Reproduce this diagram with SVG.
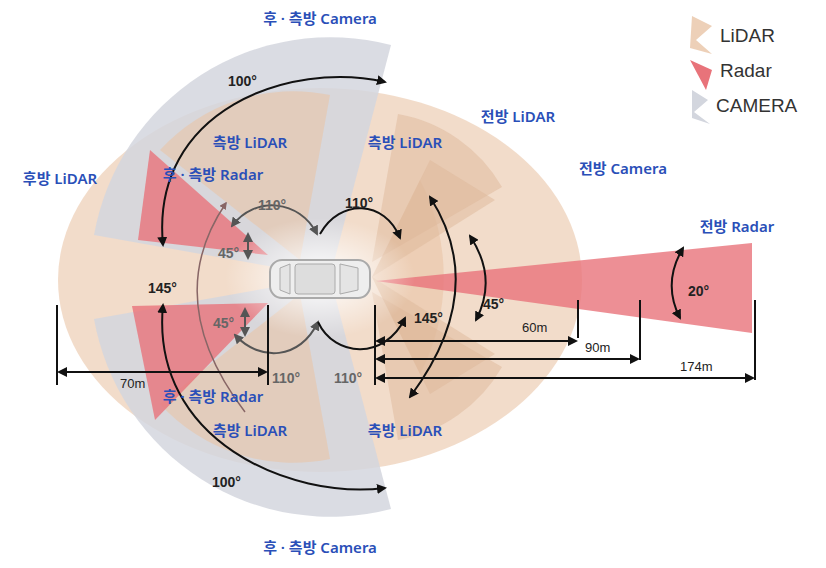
<svg xmlns="http://www.w3.org/2000/svg" width="826" height="568" viewBox="0 0 826 568">
<defs>
<style>
.lid{fill:#e9c4a6;opacity:.6}
.lid2{fill:#deb89a;opacity:.5}
.rad{fill:#e8737a;opacity:.8}
.cam{fill:#d3d6de;opacity:.85}
.lb{font-family:"Noto Sans","Noto Sans CJK KR",sans-serif;font-size:15px;font-weight:600;fill:#2a4fb8;text-anchor:middle}
.dg{font-family:"Liberation Sans",sans-serif;font-size:14px;font-weight:bold;fill:#222}
.dgg{font-family:"Liberation Sans",sans-serif;font-size:14px;font-weight:bold;fill:#666}
.dm{font-family:"Liberation Sans",sans-serif;font-size:13px;fill:#222}
.lg{font-family:"Liberation Sans",sans-serif;font-size:19px;fill:#333}
.a{fill:none;stroke:#111;stroke-width:2}
.ag{fill:none;stroke:#555;stroke-width:2}
.ab{fill:none;stroke:#866;stroke-width:1.5}
.v{stroke:#111;stroke-width:2}
</style>
<marker id="m" viewBox="0 0 10 10" refX="8" refY="5" markerWidth="5" markerHeight="5" orient="auto-start-reverse"><path d="M0,0L10,5L0,10z" fill="#111"/></marker>
<marker id="mg" viewBox="0 0 10 10" refX="8" refY="5" markerWidth="5" markerHeight="5" orient="auto-start-reverse"><path d="M0,0L10,5L0,10z" fill="#555"/></marker>
<marker id="mb" viewBox="0 0 10 10" refX="8" refY="5" markerWidth="5" markerHeight="5" orient="auto-start-reverse"><path d="M0,0L10,5L0,10z" fill="#866"/></marker>
<radialGradient id="glow"><stop offset="0" stop-color="#fff" stop-opacity="1"/><stop offset="1" stop-color="#fff" stop-opacity="0"/></radialGradient>
</defs>
<rect width="826" height="568" fill="#fff"/>
<g id="sensors">
<ellipse class="lid" cx="320" cy="280" rx="262" ry="192"/>
<path class="cam" d="M330,277 L94,235 A240,240 0 0 1 391,45 Z"/>
<path class="cam" d="M330,277 L94,319 A240,240 0 0 0 391,509 Z"/>
<path class="lid" d="M372,277 L420,180 A210,210 0 0 1 420,374 Z"/>
<path class="lid2" d="M372,262 L398,114 A150,150 0 0 1 502,187 Z"/>
<path class="lid2" d="M372,292 L398,440 A150,150 0 0 0 502,367 Z"/>
<path class="lid2" d="M372,277 L430,160 L495,200 Z"/>
<path class="lid2" d="M372,277 L430,394 L495,354 Z"/>
<path class="lid" d="M300,260 L160,150 A180,180 0 0 1 330,95 Z"/>
<path class="lid" d="M300,294 L160,404 A180,180 0 0 0 330,459 Z"/>
<path class="rad" d="M268,255 L150,150 L138,240 Z"/>
<path class="rad" d="M268,303 L132,306 L155,420 Z"/>
<path class="rad" d="M376,281 L752,243 L752,333 Z"/>
<ellipse cx="320" cy="278" rx="95" ry="60" fill="url(#glow)"/>
</g>
<g id="car">
<rect x="270" y="260" width="100" height="38" rx="12" fill="#eee" stroke="#aaa" stroke-width="2"/>
<rect x="295" y="264" width="40" height="30" rx="3" fill="#ddd" stroke="#aaa"/>
<path d="M340,264 L358,268 L358,290 L340,294 Z" fill="#e4e4e4" stroke="#aaa"/>
<path d="M290,264 L280,268 L280,290 L290,294 Z" fill="#e4e4e4" stroke="#aaa"/>
</g>
<g id="connectors">
<path class="a" d="M163,245 C150,110 290,60 385,82" marker-start="url(#m)" marker-end="url(#m)"/>
<path class="a" d="M163,305 C150,440 290,500 385,488" marker-start="url(#m)" marker-end="url(#m)"/>
<path class="ag" d="M232,226 C255,195 300,200 317,234" marker-start="url(#mg)" marker-end="url(#mg)"/>
<path class="a" d="M320,234 C340,198 385,200 400,238" marker-end="url(#m)"/>
<path class="ag" d="M235,335 C260,362 300,360 318,322" marker-start="url(#mg)" marker-end="url(#mg)"/>
<path class="a" d="M318,322 C335,358 385,360 405,318" marker-end="url(#m)"/>
<path class="ab" d="M226,203 Q160,300 245,412" marker-start="url(#mb)"/>
<path class="a" d="M430,197 Q490,290 410,397" marker-start="url(#m)" marker-end="url(#m)"/>
<path class="a" d="M470,236 Q498,278 476,320" marker-start="url(#m)" marker-end="url(#m)"/>
<path class="a" d="M683,248 Q662,283 680,318" marker-start="url(#m)" marker-end="url(#m)"/>
<path class="ag" d="M248,234 V258" marker-start="url(#mg)" marker-end="url(#mg)"/>
<path class="ag" d="M245,309 V335" marker-start="url(#mg)" marker-end="url(#mg)"/>
<path class="v" d="M57,305V385 M268,305V385 M375,305V385 M578,300V338 M640,300V360 M755,300V380"/>
<path class="a" d="M59,372H266" marker-start="url(#m)" marker-end="url(#m)"/>
<path class="a" d="M377,341H576" marker-start="url(#m)" marker-end="url(#m)"/>
<path class="a" d="M377,359H638" marker-start="url(#m)" marker-end="url(#m)"/>
<path class="a" d="M377,378H753" marker-start="url(#m)" marker-end="url(#m)"/>
</g>
<g id="labels">
<text class="lb" x="320" y="24">후 · 측방 Camera</text>
<text class="lb" x="320" y="553">후 · 측방 Camera</text>
<text class="lb" x="250" y="148">측방 LiDAR</text>
<text class="lb" x="405" y="148">측방 LiDAR</text>
<text class="lb" x="250" y="436">측방 LiDAR</text>
<text class="lb" x="405" y="436">측방 LiDAR</text>
<text class="lb" x="518" y="122">전방 LiDAR</text>
<text class="lb" x="60" y="184">후방 LiDAR</text>
<text class="lb" x="213" y="180">후 · 측방 Radar</text>
<text class="lb" x="213" y="402">후 · 측방 Radar</text>
<text class="lb" x="623" y="174">전방 Camera</text>
<text class="lb" x="737" y="232">전방 Radar</text>
<text class="dg" x="228" y="86">100°</text>
<text class="dg" x="212" y="487">100°</text>
<text class="dg" x="148" y="293">145°</text>
<text class="dg" x="414" y="323">145°</text>
<text class="dg" x="483" y="309">45°</text>
<text class="dg" x="688" y="296">20°</text>
<text class="dgg" x="258" y="210">110°</text>
<text class="dg" x="345" y="208">110°</text>
<text class="dgg" x="272" y="383">110°</text>
<text class="dgg" x="334" y="383">110°</text>
<text class="dgg" x="218" y="258">45°</text>
<text class="dgg" x="213" y="328">45°</text>
<text class="dm" x="522" y="332">60m</text>
<text class="dm" x="585" y="352">90m</text>
<text class="dm" x="680" y="371">174m</text>
<text class="dm" x="120" y="388" fill="#777">70m</text>
</g>
<g id="legend">
<path d="M692,16 L712,26 L696,40 L712,54 L690,48 Z" fill="#e9c4a6" opacity=".8"/>
<path d="M690,60 L712,70 L706,90 Z" fill="#e8737a"/>
<path d="M692,90 L708,100 L694,112 L710,124 L692,118 Z" fill="#d3d6de"/>
<text class="lg" x="720" y="42">LiDAR</text>
<text class="lg" x="720" y="77">Radar</text>
<text class="lg" x="716" y="112">CAMERA</text>
</g>
</svg>
